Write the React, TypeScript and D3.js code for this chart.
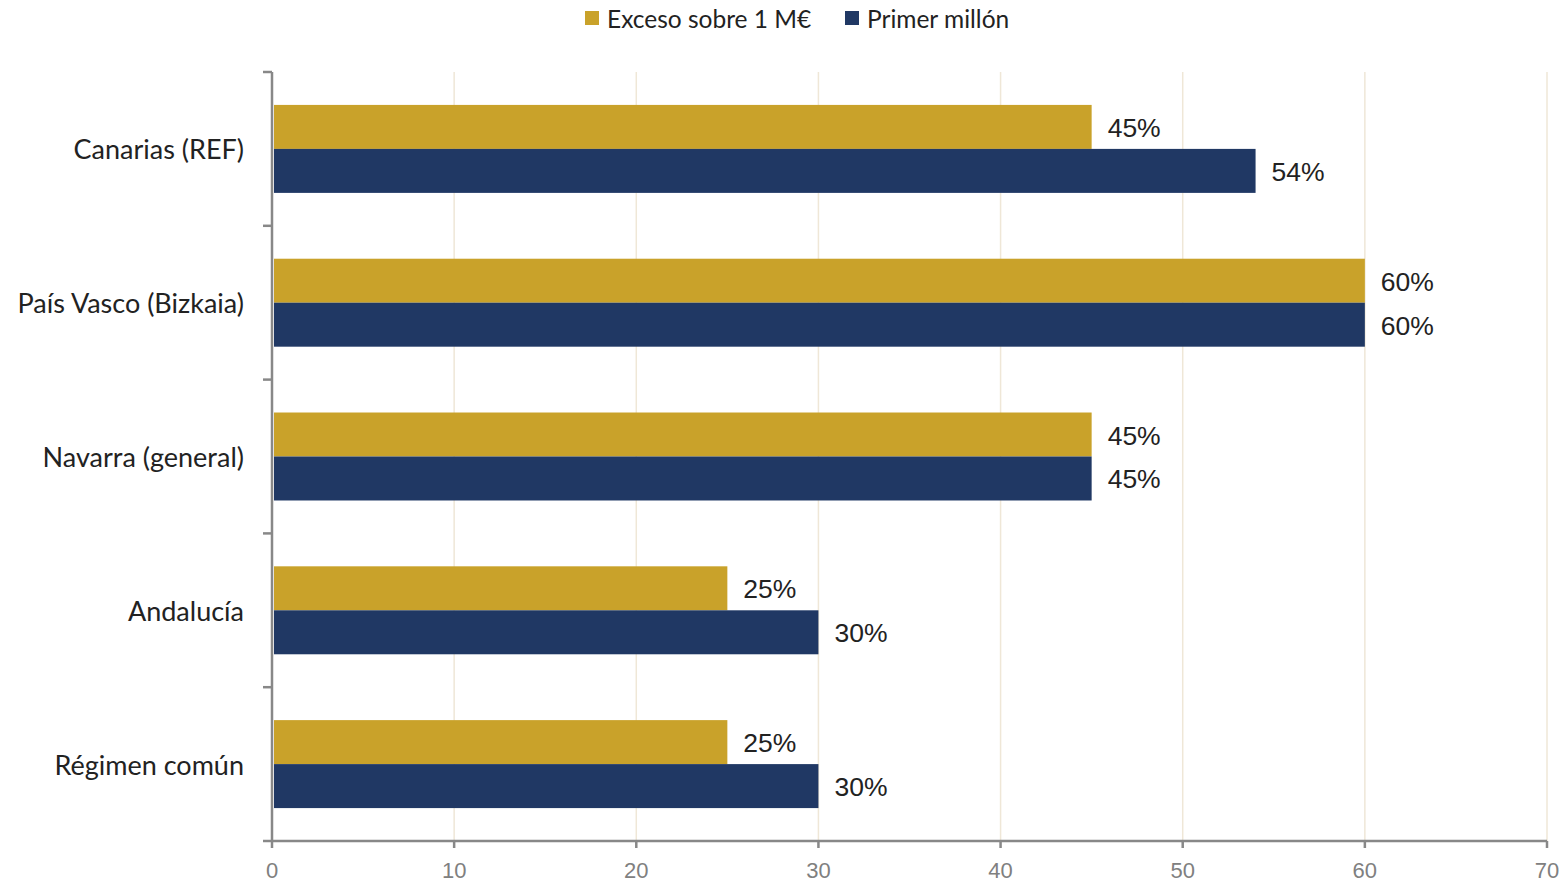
import React from "react";
import * as d3 from "d3";

const categories = ["Canarias (REF)", "País Vasco (Bizkaia)", "Navarra (general)", "Andalucía", "Régimen común"];
const excesoValues = [45, 60, 45, 25, 25];
const primerValues = [54, 60, 45, 30, 30];
const seriesNames = ["Exceso sobre 1 M€", "Primer millón"];
const seriesColors = ["#C9A22A", "#203864"];
const xTicks = [0, 10, 20, 30, 40, 50, 60, 70];

const W = 1560;
const H = 881;
const left = 272;
const right = 1547;
const top = 72;
const bottom = 841;

export default function App() {
  const x = d3.scaleLinear().domain([0, 70]).range([left, right]);
  const y = d3.scaleBand<string>().domain(categories).range([top, bottom]).paddingInner(0.428).paddingOuter(0.214);
  const sub = d3.scaleBand<number>().domain([0, 1]).range([0, y.bandwidth()]);
  const series = [excesoValues, primerValues];
  const step = (bottom - top) / categories.length;
  const boundaries = d3.range(categories.length + 1).map((i) => top + i * step);

  return (
    <svg width={W} height={H} style={{ position: "absolute", left: 0, top: 0, background: "#fff" }}>
      {xTicks.filter((t) => t > 0).map((t) => (
        <line key={"g" + t} x1={x(t)} x2={x(t)} y1={top} y2={bottom} stroke="#EFE7D7" strokeWidth={1.5} />
      ))}
      {categories.map((c, i) => (
        <g key={c}>
          {series.map((vals, s) => (
            <g key={s}>
              <rect
                x={x(0) + 2}
                y={(y(c) as number) + (sub(s) as number)}
                width={x(vals[i]) - x(0) - 2}
                height={sub.bandwidth()}
                fill={seriesColors[s]}
              />
              <text
                x={x(vals[i]) + 16}
                y={(y(c) as number) + (sub(s) as number) + sub.bandwidth() / 2 + 1}
                dominantBaseline="central"
                fontFamily="'Liberation Sans', Arial, sans-serif"
                fontSize={26.5}
                fill="#222"
              >
                {vals[i] + "%"}
              </text>
            </g>
          ))}
          <text
            x={left - 28}
            y={(y(c) as number) + y.bandwidth() / 2}
            textAnchor="end"
            dominantBaseline="central"
            fontFamily="Lato, 'Open Sans', sans-serif"
            fontSize={27}
            fill="#222"
          >
            {c}
          </text>
        </g>
      ))}
      <line x1={left} x2={left} y1={top} y2={bottom} stroke="#888" strokeWidth={2.5} />
      {boundaries.map((b, i) => (
        <line key={"yt" + i} x1={left - 9} x2={left} y1={b} y2={b} stroke="#888" strokeWidth={2.5} />
      ))}
      <line x1={left} x2={right} y1={bottom} y2={bottom} stroke="#888" strokeWidth={2.5} />
      {xTicks.map((t) => (
        <g key={"xt" + t}>
          <line x1={x(t)} x2={x(t)} y1={bottom} y2={bottom + 7} stroke="#888" strokeWidth={2.5} />
          <text
            x={x(t)}
            y={870}
            textAnchor="middle"
            dominantBaseline="central"
            fontFamily="'Liberation Sans', Arial, sans-serif"
            fontSize={22}
            fill="#808080"
          >
            {t}
          </text>
        </g>
      ))}
      {seriesNames.map((n, s) => {
        const lx = s === 0 ? 585 : 845;
        return (
          <g key={n}>
            <rect x={lx} y={11} width={14} height={14} fill={seriesColors[s]} />
            <text
              x={lx + 22}
              y={18}
              dominantBaseline="central"
              fontFamily="Lato, 'Open Sans', sans-serif"
              fontSize={24.5}
              fill="#222"
            >
              {n}
            </text>
          </g>
        );
      })}
    </svg>
  );
}
